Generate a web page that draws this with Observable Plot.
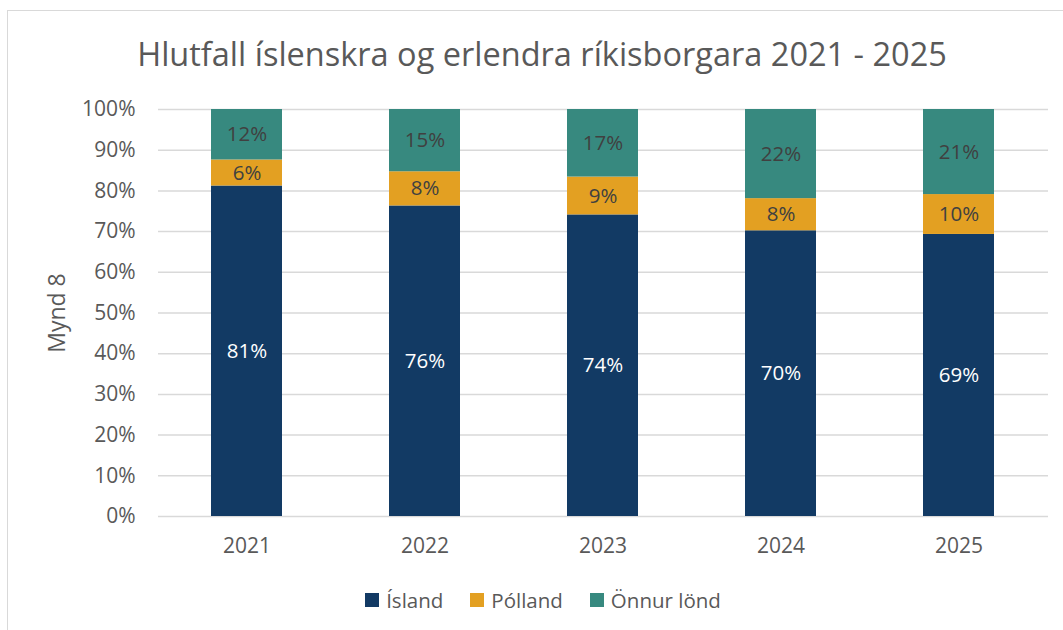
<!DOCTYPE html>
<html>
<head>
<meta charset="utf-8">
<script src="https://cdn.jsdelivr.net/npm/d3@7"></script>
<script src="https://cdn.jsdelivr.net/npm/@observablehq/plot@0.6"></script>
<style>
  html, body { margin: 0; padding: 0; background: #fff; overflow: hidden; }
  body { width: 1063px; height: 630px; position: relative; font-family: "Open Sans", "Noto Sans", sans-serif; }
  #frame { position: absolute; left: 7px; top: 10px; width: 1080px; height: 640px; border: 1.5px solid #d9d9d9; box-sizing: border-box; }
  #title { position: absolute; left: 0; top: 38px; width: 1084px; text-align: center; font-size: 32.5px; line-height: 1; color: #595959; white-space: nowrap; }
  #chart { position: absolute; left: 0; top: 80px; }
  #legend { position: absolute; left: 0; top: 588px; width: 1086px; display: flex; justify-content: center; align-items: center; gap: 27px; font-size: 20.5px; line-height: 24px; color: #595959; }
  .item { display: flex; align-items: center; gap: 7px; }
  .sw { width: 14px; height: 14px; display: inline-block; }
</style>
</head>
<body>
<div id="frame"></div>
<div id="title">Hlutfall íslenskra og erlendra ríkisborgara 2021 - 2025</div>
<div id="chart"></div>
<div id="legend"></div>
<script>
const years = ["2021", "2022", "2023", "2024", "2025"];
const island = [81.2, 76.3, 74.1, 70.2, 69.3];
const polland = [6.4, 8.4, 9.3, 7.9, 9.8];
const onnur = [12.4, 15.3, 16.6, 21.9, 20.9];
const seriesNames = ["Ísland", "Pólland", "Önnur lönd"];
const seriesColors = ["#123a64", "#e3a022", "#37897f"];
const yTicks = [0, 10, 20, 30, 40, 50, 60, 70, 80, 90, 100];
const yLabel = "Mynd 8";

const seriesValues = [island, polland, onnur];
const rows = [];
years.forEach((year, i) => {
  seriesNames.forEach((s, j) => {
    rows.push({year, series: s, value: seriesValues[j][i]});
  });
});

const chart = Plot.plot({
  width: 1063,
  height: 486,
  marginTop: 29,
  marginBottom: 50,
  marginLeft: 158,
  marginRight: 15,
  style: {fontFamily: "'Open Sans', 'Noto Sans', sans-serif", color: "#595959", background: "transparent", overflow: "visible"},
  x: {domain: years, paddingInner: 0.6, paddingOuter: 0.3, label: null},
  y: {domain: [0, 100], label: null},
  color: {domain: seriesNames, range: seriesColors},
  marks: [
    Plot.gridY(yTicks, {stroke: "#d9d9d9", strokeOpacity: 1, strokeWidth: 1.5}),
    Plot.barY(rows, Plot.stackY({x: "year", y: "value", fill: "series", order: seriesNames})),
    Plot.text(rows, Plot.stackY({
      x: "year", y: "value", z: "series", order: seriesNames,
      text: d => Math.round(d.value) + "%",
      fill: d => d.series === "Ísland" ? "#ffffff" : "#404040",
      fontSize: 20.5
    })),
    Plot.axisY(yTicks, {tickFormat: d => d + "%", tickSize: 0, tickPadding: 23, fontSize: 21, label: null}),
    Plot.axisX({tickSize: 0, tickPadding: 22, fontSize: 21, label: null}),
    Plot.text([yLabel], {frameAnchor: "left", textAnchor: "middle", rotate: -90, dx: -101, fontSize: 23, fill: "#595959"})
  ]
});
document.getElementById("chart").appendChild(chart);

const legend = document.getElementById("legend");
seriesNames.forEach((s, i) => {
  const it = document.createElement("div");
  it.className = "item";
  const sw = document.createElement("span");
  sw.className = "sw";
  sw.style.background = seriesColors[i];
  const t = document.createElement("span");
  t.textContent = s;
  it.appendChild(sw);
  it.appendChild(t);
  legend.appendChild(it);
});
</script>
</body>
</html>
